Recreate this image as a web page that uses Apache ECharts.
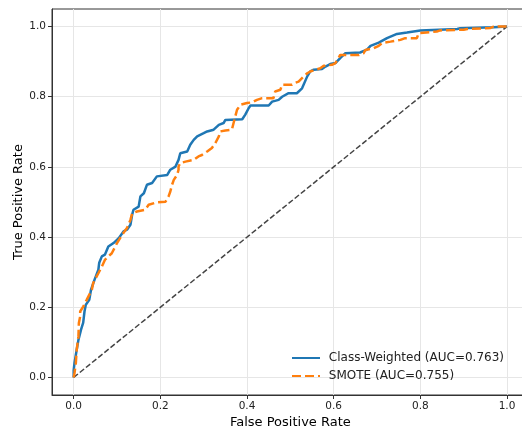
<!DOCTYPE html>
<html>
<head>
<meta charset="utf-8">
<script src="https://cdn.jsdelivr.net/npm/echarts@6/dist/echarts.min.js"></script>
<style>html,body{margin:0;padding:0;background:#fff}#c{width:522px;height:429px}</style>
</head>
<body>
<div id="c"></div>
<script>
var xTicks = [0, 0.2, 0.4, 0.6, 0.8, 1.0];
var yTicks = [0, 0.2, 0.4, 0.6, 0.8, 1.0];

var cwName = 'Class-Weighted (AUC=0.763)';
var cwFpr = [0, 0, 0.002, 0.007, 0.011, 0.017, 0.022, 0.025, 0.028, 0.036, 0.040, 0.048, 0.057, 0.059, 0.065, 0.072, 0.080, 0.092, 0.104, 0.115, 0.123, 0.131, 0.135, 0.138, 0.150, 0.154, 0.162, 0.169, 0.181, 0.192, 0.216, 0.223, 0.235, 0.242, 0.246, 0.262, 0.269, 0.277, 0.285, 0.300, 0.308, 0.323, 0.335, 0.346, 0.350, 0.389, 0.396, 0.404, 0.408, 0.450, 0.458, 0.473, 0.481, 0.496, 0.515, 0.527, 0.539, 0.546, 0.554, 0.573, 0.581, 0.592, 0.604, 0.615, 0.627, 0.661, 0.677, 0.685, 0.704, 0.723, 0.746, 0.769, 0.800, 0.885, 0.892, 0.969, 1.0];
var cwTpr = [0, 0.020, 0.042, 0.079, 0.107, 0.136, 0.156, 0.188, 0.207, 0.221, 0.250, 0.278, 0.307, 0.327, 0.345, 0.350, 0.373, 0.383, 0.397, 0.416, 0.421, 0.435, 0.464, 0.478, 0.487, 0.516, 0.525, 0.549, 0.554, 0.573, 0.577, 0.592, 0.601, 0.620, 0.639, 0.644, 0.663, 0.677, 0.687, 0.696, 0.701, 0.706, 0.720, 0.725, 0.734, 0.736, 0.749, 0.768, 0.775, 0.775, 0.786, 0.791, 0.800, 0.810, 0.810, 0.824, 0.858, 0.872, 0.877, 0.879, 0.886, 0.893, 0.896, 0.910, 0.924, 0.926, 0.934, 0.945, 0.954, 0.967, 0.979, 0.983, 0.989, 0.993, 0.995, 0.998, 1.0];

var smName = 'SMOTE (AUC=0.755)';
var smFpr = [0, 0.002, 0.005, 0.007, 0.011, 0.012, 0.015, 0.015, 0.022, 0.030, 0.042, 0.045, 0.057, 0.065, 0.072, 0.088, 0.100, 0.112, 0.123, 0.131, 0.135, 0.146, 0.165, 0.173, 0.192, 0.212, 0.219, 0.223, 0.227, 0.231, 0.239, 0.242, 0.242, 0.246, 0.258, 0.277, 0.288, 0.296, 0.308, 0.319, 0.327, 0.335, 0.338, 0.350, 0.365, 0.369, 0.373, 0.377, 0.385, 0.400, 0.412, 0.423, 0.435, 0.461, 0.465, 0.477, 0.481, 0.504, 0.512, 0.519, 0.531, 0.539, 0.546, 0.558, 0.569, 0.577, 0.596, 0.604, 0.611, 0.615, 0.658, 0.669, 0.673, 0.692, 0.704, 0.712, 0.731, 0.754, 0.765, 0.792, 0.796, 0.800, 0.838, 0.846, 0.900, 0.908, 0.962, 0.969, 1.0];
var smTpr = [0, 0.013, 0.041, 0.079, 0.117, 0.155, 0.174, 0.188, 0.202, 0.221, 0.250, 0.269, 0.297, 0.316, 0.335, 0.354, 0.383, 0.407, 0.426, 0.449, 0.468, 0.473, 0.478, 0.492, 0.499, 0.501, 0.516, 0.530, 0.549, 0.563, 0.578, 0.592, 0.601, 0.611, 0.615, 0.620, 0.630, 0.634, 0.644, 0.654, 0.668, 0.687, 0.701, 0.704, 0.706, 0.725, 0.744, 0.763, 0.777, 0.782, 0.784, 0.791, 0.796, 0.796, 0.815, 0.820, 0.834, 0.834, 0.840, 0.843, 0.858, 0.867, 0.872, 0.877, 0.881, 0.888, 0.891, 0.896, 0.910, 0.919, 0.919, 0.924, 0.933, 0.938, 0.945, 0.953, 0.957, 0.962, 0.967, 0.967, 0.981, 0.984, 0.986, 0.989, 0.991, 0.993, 0.996, 1.0, 1.0];

var diagX = [0, 1];
var diagY = [0, 1];

function zip(a, b) { return a.map(function (v, i) { return [v, b[i]]; }); }

var FONT = 'DejaVu Sans';
var chart = echarts.init(document.getElementById('c'), null, { renderer: 'canvas' });
chart.setOption({
  animation: false,
  backgroundColor: '#ffffff',
  textStyle: { fontFamily: FONT },
  grid: { left: 52, top: 9, width: 476.7, height: 386, outerBoundsMode: 'none', containLabel: false, show: true, borderColor: '#333333', borderWidth: 1, backgroundColor: 'transparent' },
  xAxis: {
    type: 'value', min: -0.05, max: 1.05,
    name: 'False Positive Rate', nameLocation: 'middle', nameGap: 21, nameMoveOverlap: false,
    nameTextStyle: { fontFamily: FONT, fontSize: 13, color: '#000' },
    axisLine: { show: true, onZero: false, lineStyle: { color: '#333333', width: 1 } },
    axisTick: { show: true, length: 4, inside: false, customValues: xTicks, lineStyle: { color: '#333333' } },
    axisLabel: { customValues: xTicks, fontFamily: FONT, fontSize: 10.5, color: '#222', margin: 6, formatter: function (v) { return v.toFixed(1); } },
    splitLine: { show: true, lineStyle: { color: '#e6e6e6', width: 1 } }
  },
  yAxis: {
    type: 'value', min: -0.05, max: 1.05,
    name: 'True Positive Rate', nameLocation: 'middle', nameGap: 27, nameRotate: 90, nameMoveOverlap: false,
    nameTextStyle: { fontFamily: FONT, fontSize: 13, color: '#000' },
    axisLine: { show: true, onZero: false, lineStyle: { color: '#333333', width: 1 } },
    axisTick: { show: true, length: 4, inside: false, customValues: yTicks, lineStyle: { color: '#333333' } },
    axisLabel: { customValues: yTicks, fontFamily: FONT, fontSize: 10.5, color: '#222', margin: 6, formatter: function (v) { return v.toFixed(1); } },
    splitLine: { show: true, lineStyle: { color: '#e6e6e6', width: 1 } }
  },
  legend: {
    orient: 'vertical', left: 291, top: 352, padding: 0,
    itemWidth: 28, itemHeight: 14, itemGap: 6,
    data: [cwName, smName],
    itemStyle: { opacity: 0 },
    formatter: function (n) { return ' ' + n; },
    textStyle: { fontFamily: FONT, fontSize: 12, color: '#222' }
  },
  series: [
    {
      name: 'diag', type: 'line', data: zip(diagX, diagY), showSymbol: false, symbol: 'none',
      lineStyle: { color: '#444444', width: 1.5, type: [5.5, 2.4] }, z: 2, silent: true
    },
    {
      name: cwName, type: 'line', data: zip(cwFpr, cwTpr), showSymbol: false, symbol: 'none',
      lineStyle: { color: '#1f77b4', width: 2.5 }, itemStyle: { color: '#1f77b4' }, z: 3
    },
    {
      name: smName, type: 'line', data: zip(smFpr, smTpr), showSymbol: false, symbol: 'none',
      lineStyle: { color: '#ff7f0e', width: 2.5, type: [9, 4] }, itemStyle: { color: '#ff7f0e' }, z: 4
    }
  ]
});
</script>
</body>
</html>
